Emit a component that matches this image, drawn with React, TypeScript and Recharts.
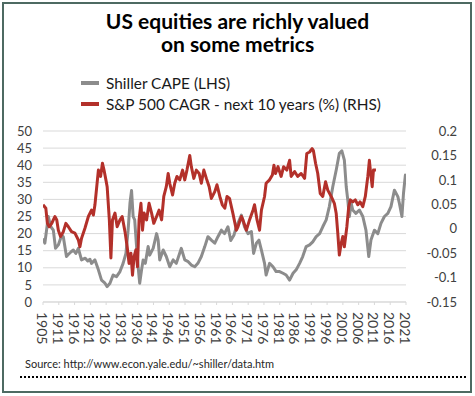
import React from "react";
import { LineChart, Line, XAxis, YAxis, CartesianGrid } from "recharts";

// Shiller CAPE (left axis)
const capeYears = [
  1905.0, 1905.6, 1906.7, 1907.5, 1908.3, 1909.0, 1909.9, 1911.0, 1911.5, 1912.5,
  1913.0, 1914.0, 1914.7, 1915.5, 1916.3, 1917.3, 1918.5, 1919.3, 1920.0, 1920.5,
  1921.6, 1922.7, 1923.7, 1924.8, 1925.5, 1926.4, 1927.4, 1928.5, 1929.6, 1930.6,
  1931.5, 1932.2, 1932.8, 1933.3, 1933.8, 1934.3, 1934.9, 1935.4, 1935.9, 1936.5,
  1937.0, 1937.7, 1938.6, 1939.1, 1940.2, 1941.3, 1941.8, 1942.3, 1943.4, 1944.4,
  1945.5, 1946.6, 1947.6, 1949.2, 1950.3, 1951.4, 1952.4, 1953.5, 1954.5, 1955.6,
  1956.7, 1957.7, 1958.8, 1959.9, 1960.9, 1962.0, 1963.0, 1964.1, 1965.0, 1966.0,
  1966.8, 1968.4, 1969.4, 1970.5, 1971.6, 1972.3, 1973.2, 1974.0, 1974.8, 1975.8,
  1976.3, 1977.4, 1978.5, 1979.5, 1980.6, 1981.7, 1982.7, 1983.8, 1984.9, 1985.9,
  1987.0, 1988.0, 1989.1, 1990.2, 1991.2, 1992.3, 1993.4, 1994.4, 1995.5, 1996.5,
  1997.6, 1998.7, 1999.7, 2000.5, 2001.3, 2001.9, 2002.4, 2002.9, 2003.5, 2004.0,
  2005.0, 2006.1, 2007.2, 2008.2, 2009.1, 2009.8, 2010.9, 2012.0, 2013.0, 2014.1,
  2015.2, 2016.2, 2017.3, 2018.4, 2018.9, 2019.7, 2020.2, 2020.8, 2021.0,
];
const capeValues = [
  18.6, 17.2, 25.0, 22.0, 21.0, 15.7, 16.7, 19.6, 19.0, 13.3,
  13.8, 14.7, 15.2, 14.2, 15.7, 12.3, 12.8, 12.0, 12.5, 11.3,
  12.3, 9.4, 6.4, 5.5, 4.5, 5.5, 7.9, 7.4, 8.9, 11.3,
  14.2, 21.0, 29.0, 32.6, 25.0, 24.0, 16.2, 10.3, 5.5, 9.4,
  12.3, 11.3, 16.2, 13.7, 15.7, 20.0, 18.1, 12.3, 15.2, 13.3,
  10.3, 12.3, 11.3, 15.7, 12.3, 11.8, 10.8, 10.3, 11.3, 13.3,
  16.2, 19.1, 18.1, 17.2, 19.1, 21.0, 20.0, 22.0, 18.0, 19.5,
  22.0, 25.4, 22.0, 20.0, 20.6, 14.2, 17.2, 18.1, 15.2, 11.3,
  7.9, 11.3, 10.3, 8.9, 8.9, 8.4, 7.9, 6.4, 8.4, 9.4,
  11.3, 13.3, 16.2, 16.7, 17.6, 19.1, 20.0, 22.0, 24.0, 27.9,
  33.7, 38.6, 43.5, 44.2, 41.5, 33.7, 29.8, 25.0, 28.8, 26.9,
  25.9, 26.9, 25.0, 21.0, 13.3, 18.1, 21.0, 20.0, 23.0, 25.0,
  25.9, 27.9, 32.7, 30.8, 28.8, 25.0, 31.8, 37.1, 37.0,
];

// S&P 500 CAGR - next 10 years (right axis)
const cagrYears = [
  1905.0, 1905.9, 1906.4, 1907.0, 1907.8, 1908.3, 1908.8, 1909.4, 1909.9, 1910.6,
  1911.5, 1912.3, 1913.1, 1914.1, 1915.2, 1916.3, 1916.8, 1917.3, 1918.4, 1919.5,
  1920.5, 1921.1, 1921.6, 1922.7, 1923.4, 1924.0, 1924.5, 1925.1, 1925.5, 1926.2,
  1926.7, 1927.2, 1928.0, 1928.7, 1929.6, 1930.3, 1931.2, 1931.9, 1932.5, 1933.1,
  1933.6, 1934.1, 1934.7, 1935.2, 1935.7, 1936.3, 1936.8, 1937.3, 1938.1, 1938.9,
  1939.7, 1940.4, 1941.3, 1942.1, 1942.9, 1943.6, 1944.4, 1945.0, 1945.5, 1946.4,
  1947.1, 1947.8, 1948.7, 1949.6, 1950.3, 1951.0, 1951.9, 1952.4, 1953.2, 1954.0,
  1954.9, 1955.6, 1956.4, 1957.2, 1958.1, 1958.8, 1959.9, 1960.6, 1961.5, 1962.3,
  1963.1, 1963.8, 1964.6, 1965.7, 1966.8, 1967.3, 1968.4, 1968.9, 1970.0, 1971.0,
  1972.1, 1972.6, 1973.4, 1974.2, 1974.8, 1975.8, 1976.3, 1977.4, 1978.3, 1978.8,
  1979.3, 1980.1, 1981.1, 1981.9, 1982.9, 1983.8, 1984.3, 1985.4, 1986.4, 1987.5,
  1988.6, 1989.3, 1990.2, 1991.0, 1991.4, 1992.1, 1992.8, 1993.6, 1994.4, 1995.3,
  1996.0, 1997.1, 1998.1, 1998.7, 1999.2, 1999.7, 2000.3, 2000.8, 2001.3, 2002.1,
  2002.7, 2003.2, 2004.0, 2004.8, 2005.6, 2006.3, 2007.2, 2008.0, 2008.8, 2009.3,
  2009.6, 2010.2, 2010.6, 2011.4,
];
const cagrValues = [
  0.049, 0.042, 0.011, 0.004, 0.011, 0.018, 0.025, 0.018, -0.003, -0.016,
  -0.006, 0.011, 0.004, -0.006, -0.009, -0.023, -0.037, -0.02, 0.001, 0.025,
  0.038, 0.028, 0.049, 0.12, 0.107, 0.134, 0.12, 0.1, 0.086, 0.018,
  -0.06, 0.018, 0.032, 0.004, 0.018, 0.025, -0.006, -0.037, -0.071, -0.05,
  -0.095, -0.057, -0.043, -0.078, 0.018, 0.052, -0.003, 0.032, 0.018, 0.052,
  0.032, 0.011, 0.025, 0.038, 0.018, 0.066, 0.086, 0.113, 0.093, 0.069,
  0.093, 0.107, 0.1, 0.12, 0.1, 0.12, 0.15, 0.127, 0.103, 0.12,
  0.113, 0.093, 0.12, 0.103, 0.086, 0.062, 0.076, 0.09, 0.066, 0.049,
  0.042, 0.066, 0.062, 0.031, -0.003, 0.004, 0.025, 0.018, -0.003, 0.018,
  0.038, 0.049, 0.018, -0.003, 0.038, 0.066, 0.093, 0.1, 0.11, 0.13,
  0.113, 0.127, 0.107, 0.127, 0.12, 0.14, 0.107, 0.117, 0.107, 0.113,
  0.103, 0.154, 0.157, 0.164, 0.16, 0.134, 0.113, 0.072, 0.066, 0.096,
  0.079, 0.066, 0.052, 0.031, -0.009, -0.054, -0.03, -0.016, -0.037, 0.004,
  0.045, 0.059, 0.055, 0.059, 0.049, 0.055, 0.045, 0.066, 0.107, 0.14,
  0.12, 0.086, 0.12, 0.12,
];

const xTickLabels = [
  "1905", "1911", "1916", "1921", "1926", "1931", "1936", "1941", "1946", "1951",
  "1956", "1961", "1966", "1971", "1976", "1981", "1986", "1991", "1996", "2001",
  "2006", "2011", "2016", "2021",
];
const leftTicks = [0, 5, 10, 15, 20, 25, 30, 35, 40, 45, 50];
const rightTicks = [-0.15, -0.1, -0.05, 0, 0.05, 0.1, 0.15, 0.2];
const rightTickLabels = ["-0.15", "-0.1", "-0.05", "0", "0.05", "0.1", "0.15", "0.2"];

const seriesNames = ["Shiller CAPE (LHS)", "S&P 500 CAGR - next 10 years (%) (RHS)"];
const GRAY = "#8c8c8c";
const RED = "#b3302a";
const FONT = "Lato, 'Open Sans', sans-serif";

const capeData = capeYears.map((year, i) => ({ year, v: capeValues[i] }));
const cagrData = cagrYears.map((year, i) => ({ year, r: cagrValues[i] }));

const X_MIN = Number(xTickLabels[0]);
const X_MAX = Number(xTickLabels[xTickLabels.length - 1]);
const xTicks = xTickLabels.map(
  (_, i) => X_MIN + (i * (X_MAX - X_MIN)) / (xTickLabels.length - 1)
);

const XTick = (props: any) => {
  const { x, y, index } = props;
  return (
    <g transform={`translate(${x - 1},${y})`}>
      <text
        transform="rotate(90)"
        x={0}
        y={0}
        dy="0.36em"
        textAnchor="start"
        fill="#404040"
        fontSize={14}
        fontFamily={FONT}
      >
        {xTickLabels[index]}
      </text>
    </g>
  );
};

const RightTick = (props: any) => {
  const { x, y, payload } = props;
  const idx = rightTicks.findIndex((t) => Math.abs(t - payload.value) < 1e-9);
  return (
    <text
      x={x + 51}
      y={y}
      dy="0.36em"
      textAnchor="end"
      fill="#404040"
      fontSize={13}
      fontFamily={FONT}
    >
      {idx >= 0 ? rightTickLabels[idx] : ""}
    </text>
  );
};

export default function App() {
  return (
    <div
      style={{
        position: "absolute",
        left: 0,
        top: 0,
        width: 475,
        height: 396,
        background: "#fff",
        fontFamily: FONT,
        overflow: "hidden",
      }}
    >
      <div
        style={{
          position: "absolute",
          left: 2,
          top: 2,
          width: 470,
          height: 391,
          boxSizing: "border-box",
          border: "2px solid #4e6a62",
        }}
      />
      <div
        style={{
          position: "absolute",
          left: 0,
          top: 9,
          width: 475,
          textAlign: "center",
          fontWeight: 700,
          fontSize: 21,
          lineHeight: "23px",
          color: "#000",
        }}
      >
        US equities are richly valued
        <br />
        on some metrics
      </div>
      {seriesNames.map((name, i) => (
        <div
          key={name}
          style={{
            position: "absolute",
            left: 81,
            top: 73 + i * 21,
            height: 20,
            display: "flex",
            alignItems: "center",
            fontSize: 15.4,
            color: "#1a1a1a",
            whiteSpace: "nowrap",
          }}
        >
          <span
            style={{
              display: "inline-block",
              width: 18,
              height: 4,
              background: i === 0 ? GRAY : RED,
              marginRight: 7,
            }}
          />
          {name}
        </div>
      ))}
      <div style={{ position: "absolute", left: 0, top: 0 }}>
        <LineChart
          width={475}
          height={396}
          margin={{ top: 131, right: 18, bottom: 49, left: 0 }}
        >
          <CartesianGrid
            yAxisId="left"
            horizontal
            vertical={false}
            stroke="#d9d9d9"
            strokeWidth={1}
          />
          <XAxis
            type="number"
            dataKey="year"
            domain={[X_MIN, X_MAX]}
            ticks={xTicks}
            interval={0}
            height={45}
            axisLine={{ stroke: "#d9d9d9" }}
            tickLine={{ stroke: "#d9d9d9" }}
            tickSize={3}
            tickMargin={7}
            tick={<XTick />}
            allowDataOverflow
          />
          <YAxis
            yAxisId="left"
            orientation="left"
            width={43}
            domain={[0, 50]}
            ticks={leftTicks}
            interval={0}
            axisLine={false}
            tickLine={false}
            tickSize={0}
            tickMargin={11}
            tick={{ fill: "#404040", fontSize: 13, fontFamily: FONT }}
          />
          <YAxis
            yAxisId="right"
            orientation="right"
            width={51}
            domain={[-0.15, 0.2]}
            ticks={rightTicks}
            interval={0}
            axisLine={false}
            tickLine={false}
            tickSize={0}
            tickMargin={0}
            tick={<RightTick />}
          />
          <Line
            yAxisId="left"
            data={capeData}
            dataKey="v"
            type="linear"
            stroke={GRAY}
            strokeWidth={3}
            dot={false}
            isAnimationActive={false}
            strokeLinejoin="round"
          />
          <Line
            yAxisId="right"
            data={cagrData}
            dataKey="r"
            type="linear"
            stroke={RED}
            strokeWidth={3}
            dot={false}
            isAnimationActive={false}
            strokeLinejoin="round"
          />
        </LineChart>
      </div>
      <div
        style={{
          position: "absolute",
          left: 25,
          top: 357,
          fontSize: 11,
          color: "#262626",
          whiteSpace: "nowrap",
        }}
      >
        Source: http://www.econ.yale.edu/~shiller/data.htm
      </div>
      <div
        style={{
          position: "absolute",
          left: 20,
          top: 376,
          width: 446,
          borderTop: "2px dotted #000",
        }}
      />
    </div>
  );
}
